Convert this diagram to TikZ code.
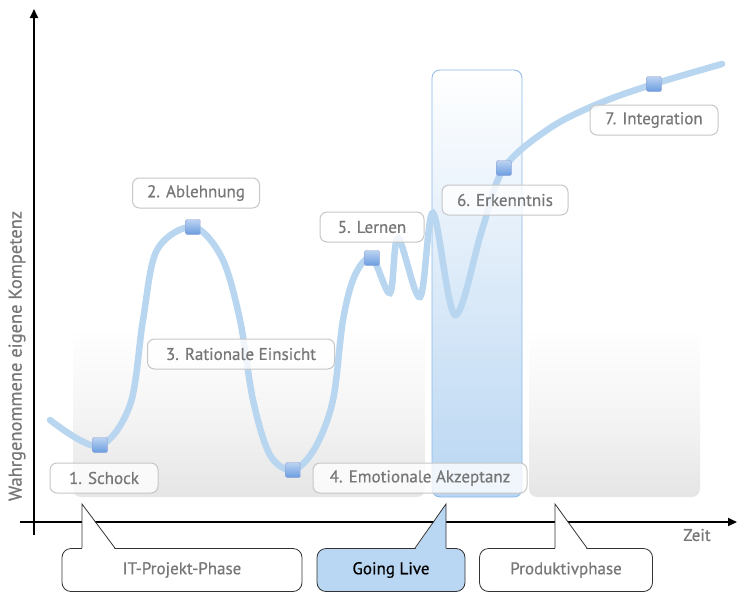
\documentclass[tikz,border=0pt]{standalone}
\usepackage{fontspec}
\setmainfont{PT Sans}
\newfontfamily\lblfont{PT Sans}[FakeBold=0.6]
\usepackage{tikz}
\usetikzlibrary{arrows.meta,positioning}

\definecolor{curveblue}{HTML}{B8D6F0}
\definecolor{markblue}{HTML}{6A9DE0}
\definecolor{markedge}{HTML}{8C98D0}
\definecolor{liveblue}{HTML}{B9D6F2}
\definecolor{liveedge}{HTML}{8AB8E8}
\definecolor{labelgray}{HTML}{777777}

\begin{document}
\begin{tikzpicture}[x=1pt,y=-1pt,>={Triangle[length=9pt,width=8pt]},
	font=\lblfont\fontsize{17}{20}\selectfont]
	\tikzstyle{phase}=[rounded corners=8pt,top color=white,bottom color=black!10,middle color=black!4]
	\tikzstyle{curve}=[draw=curveblue,line width=6.5pt,line cap=round]
	\tikzstyle{marker}=[draw=markedge,rounded corners=2pt,minimum size=15pt,inner sep=0pt,
		top color=markblue!45,bottom color=markblue]
	\tikzstyle{stage}=[draw=black!22,line width=1pt,rounded corners=7pt,fill=white,fill opacity=0.78,
		text opacity=1,text=labelgray,minimum height=30pt,inner sep=0pt]
	\tikzstyle{callout}=[draw=black!80,line width=0.8pt,rounded corners=9pt,fill=white,
		text=labelgray,minimum height=43pt,inner sep=0pt]
	\tikzstyle{axis}=[line width=2pt,->]

	\useasboundingbox (0,0) rectangle (745,592);

	% background phases
	\shade[phase] (73,327) rectangle (425,497);
	\shade[phase] (529,327) rectangle (700,497);
	\shade[rounded corners=8pt,top color=white,bottom color=liveblue] (432,70) rectangle (522,497);
	\draw[liveedge,rounded corners=8pt,line width=0.8pt] (432,70) rectangle (522,497);

	% competence curve
	\draw[curve] plot[smooth,tension=0.55] coordinates {
		(50,420) (98,446) (130,405) (143,320) (157,250) (193,227) (222,258) (240,320)
		(253,400) (270,455) (293,470) (315,448) (333,400) (343,320) (355,275) (372,258)
		(390,293) (398,238) (420,297) (433,213) (455,315) (482,230) (504,168)
		(550,128) (600,103) (654,84) (722,64)};

	\node[marker] (m1) at (100,445) {};
	\node[marker] (m2) at (193,227) {};
	\node[marker] (m4) at (293,470) {};
	\node[marker] (m5) at (372,258) {};
	\node[marker] (m6) at (504,168) {};
	\node[marker] (m7) at (654,84) {};

	% stages
	\node[stage,minimum width=108pt] (s1) at (104,478) {1. Schock};
	\node[stage,minimum width=127pt] (s2) at (196,193) {2. Ablehnung};
	\node[stage,minimum width=187pt] (s3) at (241,354) {3. Rationale Einsicht};
	\node[stage,minimum width=214pt] (s4) at (420,478) {4. Emotionale Akzeptanz};
	\node[stage,minimum width=104pt] (s5) at (372,227) {5. Lernen};
	\node[stage,minimum width=126pt] (s6) at (505,200) {6. Erkenntnis};
	\node[stage,minimum width=128pt] (s7) at (654,120) {7. Integration};

	% axes
	\coordinate (xs) at (20,522);
	\coordinate (xe) at (737,522);
	\coordinate (ys) at (34,535);
	\coordinate (ye) at (34,9);
	\draw[axis] (xs) -- (xe);
	\draw[axis] (ys) -- (ye);
	\node[text=labelgray,rotate=90,font=\lblfont\fontsize{18.5}{20}\selectfont] (ylab) at (17,356) {Wahrgenommene eigene Kompetenz};
	\node[text=labelgray] (xlab) at (697,535) {Zeit};

	% phases on the time axis
	\node[callout,minimum width=240pt] (p1) at (182,570) {IT-Projekt-Phase};
	\node[callout,minimum width=148pt,fill=liveblue,text=black] (p2) at (391,570) {Going Live};
	\node[callout,minimum width=173pt] (p3) at (566,570) {Produktivphase};

	\coordinate (t1) at (82,504);
	\coordinate (t2) at (446,504);
	\coordinate (t3) at (555,504);

	\fill[white] (82,549.5) -- (t1) -- (115,549.5) -- cycle;
	\draw[black!80,line width=0.8pt] (t1 |- p1.north) -- (t1) -- (p1.north -| 115,0);
	\fill[liveblue] (446,549.5) -- (t2) -- (415,549.5) -- cycle;
	\draw[black!80,line width=0.8pt] (t2 |- p2.north) -- (t2) -- (p2.north -| 415,0);
	\fill[white] (555,549.5) -- (t3) -- (587,549.5) -- cycle;
	\draw[black!80,line width=0.8pt] (t3 |- p3.north) -- (t3) -- (p3.north -| 587,0);
\end{tikzpicture}
\end{document}
